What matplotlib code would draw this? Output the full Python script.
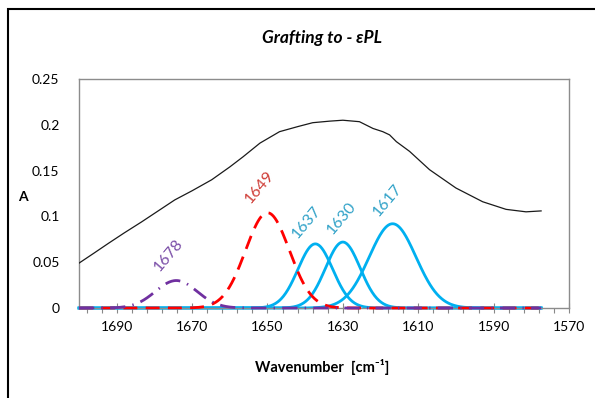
import numpy as np
import matplotlib
matplotlib.use("Agg")
import matplotlib.pyplot as plt
from matplotlib.patches import Rectangle
from matplotlib.ticker import FuncFormatter

plt.rcParams['font.family'] = ['Lato', 'DejaVu Sans']

# measured spectrum (wavenumber, absorbance)
spec_x = [1700, 1696, 1692.2, 1688, 1683.4, 1679, 1674.6, 1670, 1664.8, 1660, 1656.5,
          1652, 1646.8, 1642, 1638, 1633.5, 1630, 1625.6, 1622, 1619.4, 1617.6, 1615.8,
          1612.3, 1607, 1600, 1592.9, 1586.7, 1581.4, 1577.4]
spec_y = [0.049, 0.060, 0.0706, 0.082, 0.094, 0.106, 0.118, 0.128, 0.140, 0.154, 0.165,
          0.180, 0.1925, 0.198, 0.2023, 0.204, 0.205, 0.2034, 0.196, 0.1925, 0.189, 0.1816,
          0.171, 0.151, 0.131, 0.116, 0.1077, 0.105, 0.106]

# fitted bands
band_labels = ['1678', '1649', '1637', '1630', '1617']
band_centers = [1674.2, 1650.0, 1637.3, 1630.0, 1616.8]
band_heights = [0.030, 0.104, 0.070, 0.072, 0.092]
band_sigmas = [5.5, 5.8, 4.6, 4.6, 6.2]
band_styles = ['dashdot', 'dashed', 'solid', 'solid', 'solid']

# label anchor points (wavenumber, A)
label_x = [1676.2, 1652.0, 1639.6, 1630.3, 1618.1]
label_y = [0.058, 0.132, 0.094, 0.098, 0.118]

x_start, x_end = 1700, 1577.4

fig = plt.figure(figsize=(5.95, 3.98), dpi=100)
ax = fig.add_axes([0.1328, 0.2261, 0.8235, 0.5754])

xs = np.linspace(x_start, x_end, 600)
line_col = {'solid': '#00B0F0', 'dashed': '#FF0000', 'dashdot': '#7030A0'}
text_col = {'solid': '#31A2C8', 'dashed': '#D0403A', 'dashdot': '#7B4FA8'}
ls_map = {'solid': '-', 'dashed': (0, (5, 3)), 'dashdot': (0, (5.5, 2.6, 0.5, 2.6))}
z_map = {'solid': 2, 'dashed': 3, 'dashdot': 4}

for c, h, s, st in zip(band_centers, band_heights, band_sigmas, band_styles):
    ys = h * np.exp(-0.5 * ((xs - c) / s) ** 2)
    ax.plot(xs, ys, color=line_col[st], linestyle=ls_map[st], lw=2.0,
            zorder=z_map[st], clip_on=False)

ax.plot(spec_x, spec_y, color='#1a1a1a', lw=0.9, zorder=5)

for lab, lx, ly, st in zip(band_labels, label_x, label_y, band_styles):
    ax.text(lx, ly, lab, rotation=50, ha='center', va='center', fontsize=11.5,
            color=text_col[st], rotation_mode='anchor')

ax.set_xlim(1700, 1570)
ax.set_ylim(0, 0.25)
ax.set_xticks(np.arange(1690, 1569, -20))
ax.set_xticks(np.arange(1698, 1569, -4), minor=True)
ax.set_yticks([0, 0.05, 0.1, 0.15, 0.2, 0.25])
ax.yaxis.set_major_formatter(FuncFormatter(lambda v, p: '%g' % v))

ax.tick_params(axis='x', which='major', direction='inout', length=7, width=0.8,
               color='#888888', labelsize=10, pad=6)
ax.tick_params(axis='x', which='minor', direction='out', length=3.5, width=0.8,
               color='#888888')
ax.tick_params(axis='y', length=0, labelsize=10, pad=14)
for sp in ax.spines.values():
    sp.set_color('#8c8c8c')
    sp.set_linewidth(1.0)

fig.text(0.541, 0.905, 'Grafting to - εPL', ha='center', va='center',
         fontsize=12.5, fontweight='bold', fontstyle='italic')
fig.text(0.030, 0.505, 'A', ha='left', va='center', fontsize=10, fontweight='bold')
fig.text(0.541, 0.078, 'Wavenumber  [cm⁻¹]', ha='center', va='center',
         fontsize=10.5, fontweight='bold')

fig.patches.append(Rectangle((7.5 / 595, -0.1), 1.2, 1.1 - 8.5 / 398,
                             transform=fig.transFigure, fill=False,
                             edgecolor='black', lw=1.5))

fig.savefig('out.png', dpi=100)
